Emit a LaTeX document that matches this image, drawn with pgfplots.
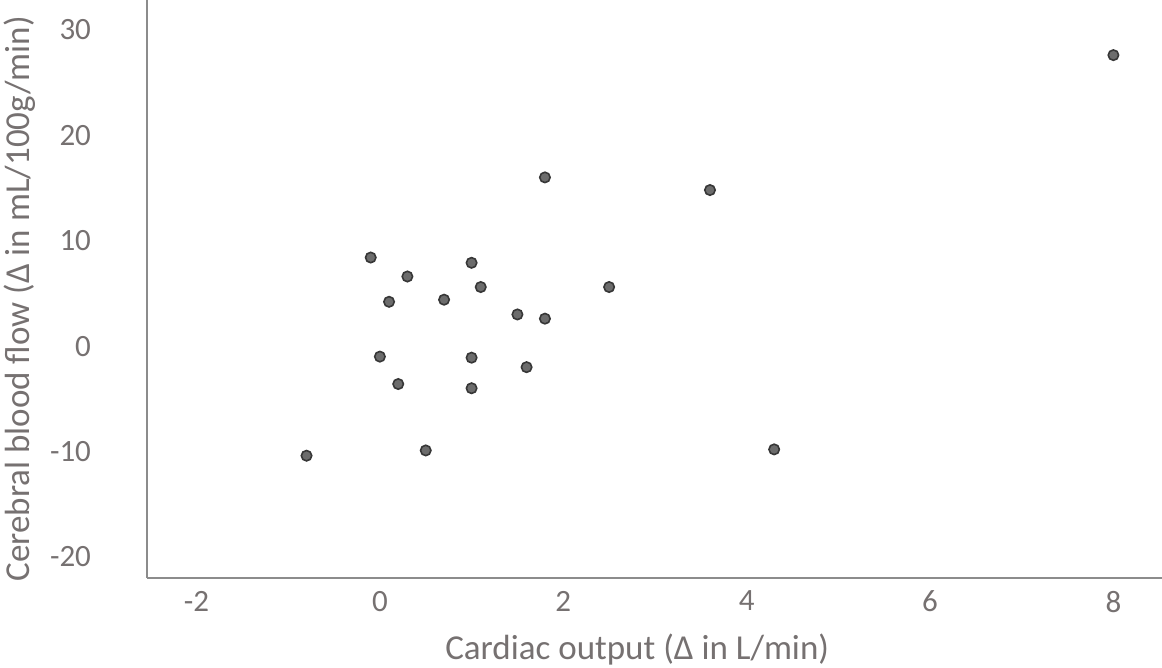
\documentclass[border=0pt]{standalone}
\usepackage{pgfplots}
\pgfplotsset{compat=1.18}
\usepackage{fontspec}
\setmainfont{Carlito}
\definecolor{txtgray}{RGB}{118,113,113}
\definecolor{axgray}{RGB}{140,140,140}
\definecolor{mkfill}{RGB}{108,108,108}
\definecolor{mkdraw}{RGB}{55,55,55}
\begin{document}
\begin{tikzpicture}
\begin{axis}[
  name=ax,
  scale only axis,
  width=507.5pt, height=289pt,
  xmin=-2.54, xmax=8.53,
  ymin=-22.0, ymax=32.83,
  axis x line*=bottom, axis y line*=left,
  axis line style={axgray, line width=1.1pt},
  xtick={-2,0,2,4,6,8},
  ytick={-20,-10,0,10,20,30},
  major tick length=0pt,
  /pgf/number format/assume math mode=true,
  tick label style={font=\fontsize{15.5}{18}\selectfont, text=txtgray},
  yticklabel style={anchor=east, xshift=-24.5pt},
  xticklabel style={anchor=north, yshift=-3pt},
  xlabel={Cardiac output (Δ in L/min)},
  ylabel={Cerebral blood flow (Δ in mL/100g/min)},
  label style={font=\fontsize{17.5}{20}\selectfont, text=txtgray},
  xlabel style={at={(axis description cs:0.483,-0.1246)}, anchor=center},
  ylabel style={at={(axis description cs:-0.125,0.483)}, anchor=center, rotate=0},
  clip=false,
]
\addplot[only marks, mark=*, mark size=2.6pt,
  mark options={fill=mkfill, draw=mkdraw, line width=0.8pt}]
  coordinates {
  (-0.8,-10.4) (-0.1,8.4) (0.0,-1.0) (0.1,4.2) (0.2,-3.6) (0.3,6.6)
  (0.5,-9.9) (0.7,4.4) (1.0,7.9) (1.0,-1.1) (1.0,-4.0) (1.1,5.6)
  (1.5,3.0) (1.6,-2.0) (1.8,2.6) (1.8,16.0) (2.5,5.6) (3.6,14.8)
  (4.3,-9.8) (8.0,27.6)
  };
\end{axis}
\pgfresetboundingbox
\path (ax.south west) ++(-73.5pt,-45pt) rectangle (ax.north east);
\end{tikzpicture}
\end{document}
